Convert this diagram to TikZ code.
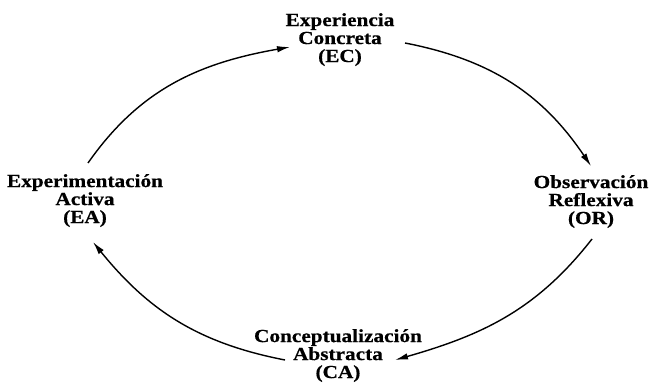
\documentclass[tikz,border=0pt]{standalone}
\usepackage{fontspec}
\setmainfont{Liberation Serif}[FakeStretch=1.15,BoldFeatures={FakeBold=0.6}]
\usetikzlibrary{arrows.meta,calc}
\tikzset{
  lbl/.style={anchor=north, align=center, inner sep=0pt,
    font=\fontsize{18.5}{18}\selectfont\bfseries},
  arr/.style={line width=1.4pt, -{Latex[length=13pt,width=6.5pt]}},
}
\begin{document}
\begin{tikzpicture}[x=1pt,y=1pt]
\useasboundingbox (0,0) rectangle (652,387);
\node[lbl] (ec) at (340,374) {Experiencia\\Concreta\\(EC)};
\node[lbl] (ea) at (85,213) {Experimentación\\Activa\\(EA)};
\node[lbl] (or) at (591,212) {Observación\\Reflexiva\\(OR)};
\node[lbl] (ca) at (338,58) {Conceptualización\\Abstracta\\(CA)};
\draw[arr] ($(ea.north)+(3,11)$) to[out=55,in=190] ($(ec.north)+(-50,-34)$);
\draw[arr] ($(ec.north)+(65,-30)$) to[out=-11,in=124] ($(or.north)+(0,9)$);
\draw[arr] ($(or.north)+(1,-64)$) to[out=232,in=16] ($(ca.north)+(57,-31)$);
\draw[arr] ($(ca.north)+(-53,-31)$) to[out=169,in=309] ($(ea.north)+(8,-68)$);
\end{tikzpicture}
\end{document}
